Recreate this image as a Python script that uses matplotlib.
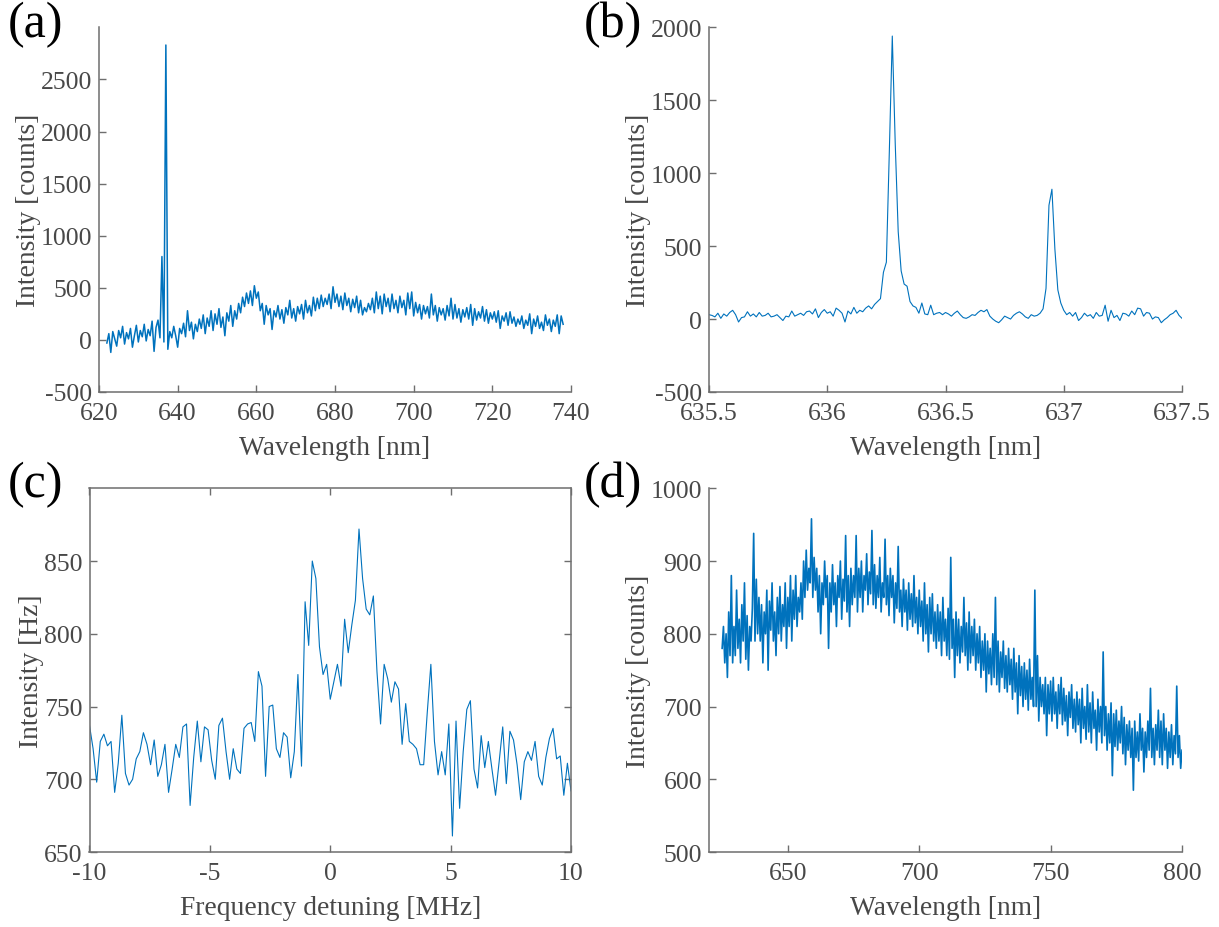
import numpy as np
import matplotlib
matplotlib.use("Agg")
import matplotlib.pyplot as plt

plt.rcParams['font.family'] = ['Liberation Serif', 'DejaVu Serif']
plt.rcParams['axes.unicode_minus'] = False

LINE = '#0072BD'
AX = '#6e6e6e'
TXT = '#484848'

# ---------------- (a) broad spectrum, 622-738 nm ----------------
a_range = (622.0, 738.0)
a_vals = [
    -30, 60, -120, 80, 10, -60, 90, 20, 130, -40, 70, 10, 110, -70, 40, 140,
    -20, 90, 30, 150, -10, 100, 40, 180, -110, 120, 190, 20,
    800, -20, 2830, -90,
    80, 20, 130, 40, -70, 110, 60, 160, 30, 280, 90, 170, 10, 150, 80, 200,
    110, 240, 60, 210, 130, 280, 90, 250, 150, 300, 120, 220, 40, 260, 180, 330,
    130, 280, 200, 350, 260, 410, 320, 450, 350, 470, 330, 520, 400, 460, 280, 350,
    150, 330, 240, 300, 100, 280, 220, 330, 200, 290, 160, 310, 240, 380, 210, 300,
    180, 320, 250, 340, 200, 380, 260, 330, 230, 410, 280, 400, 300, 430, 320, 400,
    340, 440, 300, 510, 360, 440, 320, 420, 290, 450, 330, 400, 270, 390, 310, 420,
    260, 380, 240, 310, 270, 350, 290, 400, 260, 460, 300, 420, 250, 440, 320, 400,
    270, 440, 300, 380, 260, 420, 310, 380, 240, 450, 300, 460, 230, 360, 260, 340,
    200, 330, 250, 320, 210, 440, 240, 330, 180, 310, 240, 300, 190, 330, 230, 400,
    200, 340, 210, 300, 170, 290, 220, 310, 200, 340, 140, 300, 190, 270, 210, 320,
    180, 290, 160, 260, 200, 270, 170, 280, 110, 230, 180, 260, 140, 270, 160, 220,
    130, 200, 150, 230, 110, 190, 140, 250, 60, 200, 130, 230, 110, 170, 90, 240,
    140, 200, 80, 190, 130, 240, 60, 230, 150,
]

# ---------------- (b) zoom on the two lines, 635.5-637.5 nm ----------------
b_range = (635.5, 637.5)
b_vals = [
    30, 25, 15, 40, 5, 35, 20, 45, 60, 30, -20, 10, 15, 50, 20, 35,
    15, 45, 20, 25, 40, 15, 20, 30, 10, -10, 20, 15, 55, 20, 30, 40,
    25, 50, 55, 35, 70, 10, 45, 65, 40, 50, 20, 75, 60, 40, -20, 55,
    35, 80, 40, 60, 50, 75, 90, 70, 100,
    120, 140, 320, 390, 1150, 1940, 1200, 600, 330, 240, 225, 120, 90, 80, 40,
    110, 35, 30, 95, 30, 40, 45, 30,
    45, 35, 20, 40, 55, 30, 10, 5, 15, 30, 25, 45, 60, 50, 65, 20,
    0, -15, -25, -5, 20, 10, 0, 25, 40, 50, 35, 15, 5, 30, 20, 25,
    40, 70, 210, 780, 890, 480, 200, 110, 60, 30, 45, 20, 45,
    -10, 10, 40, 20, 30, 5, 45, 20, 25, 95, -15, 60, 10, 25, -10, 40,
    35, 20, 55, 30, 75, 70, 20, 45, 40, 0, 15, 10, -25, -5, 10, 30,
    40, 60, 25, 5,
]

# ---------------- (c) excitation scan, -10..10 MHz ----------------
c_range = (-10.0, 10.0)
c_vals = [
    737, 721, 698, 726, 731, 723, 726, 691, 711, 744, 704, 696, 700, 714, 719, 732,
    724, 710, 727, 702, 710, 724, 691, 707, 724, 715, 736, 738, 682, 715, 740, 712,
    736, 734, 713, 700, 737, 742, 719, 700, 721, 707, 704, 735, 738, 739, 726, 774,
    764, 702, 750, 751, 721, 715, 732, 729, 701, 719, 772, 709, 822, 792, 850, 838,
    791, 772, 779, 755, 767, 779, 764, 810, 787, 806, 823, 872, 838, 817, 813, 826,
    774, 738, 779, 769, 753, 767, 762, 724, 752, 726, 724, 721, 710, 710, 746, 779,
    726, 703, 719, 703, 738, 661, 740, 680, 719, 748, 754, 707, 694, 730, 708, 726,
    707, 689, 712, 736, 697, 733, 727, 710, 686, 712, 719, 713, 726, 702, 696, 715,
    728, 735, 714, 716, 689, 711, 692,
]

# ---------------- (d) broad spectrum, 625-800 nm ----------------
d_range = (625.0, 800.0)
d_vals = [
    780, 810, 760, 800, 740, 830, 770, 880, 760, 810,
    770, 860, 780, 820, 760, 840, 790, 870, 765, 825,
    750, 810, 790, 835, 938, 790, 875, 800, 850, 790,
    840, 760, 830, 800, 860, 750, 845, 805, 870, 790,
    830, 770, 850, 800, 865, 790, 840, 810, 870, 780,
    850, 810, 880, 790, 860, 820, 880, 810, 850, 830,
    870, 820, 900, 850, 915, 860, 890, 870, 958, 850,
    905, 860, 890, 830, 880, 800, 870, 840, 900, 850,
    880, 780, 870, 830, 895, 840, 870, 810, 880, 850,
    900, 820, 875, 845, 935, 830, 880, 810, 890, 840,
    880, 850, 935, 830, 890, 850, 900, 830, 880, 860,
    910, 840, 885, 855, 942, 840, 895, 835, 880, 850,
    905, 830, 870, 850, 930, 840, 880, 825, 890, 850,
    880, 815, 870, 835, 920, 830, 860, 810, 875, 830,
    860, 805, 870, 820, 855, 810, 880, 815, 850, 800,
    860, 810, 845, 790, 870, 800, 840, 775, 850, 800,
    855, 790, 830, 780, 840, 790, 830, 770, 850, 790,
    820, 770, 835, 765, 905, 780, 820, 740, 830, 770,
    820, 760, 810, 775, 850, 770, 815, 750, 830, 760,
    810, 770, 820, 750, 800, 760, 810, 740, 790, 750,
    800, 720, 790, 745, 780, 730, 800, 740, 850, 730,
    790, 720, 775, 740, 790, 725, 770, 720, 780, 730,
    765, 710, 780, 720, 760, 690, 770, 715, 755, 700,
    760, 710, 750, 695, 765, 710, 740, 700, 860, 700,
    770, 680, 740, 700, 730, 690, 740, 660, 730, 690,
    735, 680, 740, 690, 720, 670, 730, 690, 740, 675,
    725, 680, 715, 660, 720, 685, 730, 670, 710, 665,
    720, 675, 710, 650, 725, 670, 700, 655, 730, 665,
    705, 650, 720, 670, 695, 640, 710, 665, 700, 650,
    775, 660, 700, 640, 690, 650, 705, 605, 690, 645,
    695, 640, 680, 650, 700, 635, 685, 620, 675, 640,
    680, 630, 670, 585, 680, 630, 665, 625, 690, 640,
    670, 610, 665, 630, 680, 640, 725, 630, 670, 620,
    675, 640, 695, 630, 680, 620, 690, 640, 670, 615,
    665, 630, 675, 620, 660, 635, 728, 630, 660, 615,
    640,
]

W, H = 1219, 928
fig = plt.figure(figsize=(W / 100, H / 100), dpi=100)


def px_axes(x0, x1, y0, y1):
    return fig.add_axes([x0 / W, 1 - y1 / H, (x1 - x0) / W, (y1 - y0) / H])


def style(ax, box=False):
    for s in ax.spines.values():
        s.set_color(AX)
        s.set_linewidth(1.1)
    if not box:
        ax.spines['top'].set_visible(False)
        ax.spines['right'].set_visible(False)
    ax.tick_params(direction='in', length=5, width=1.0, color=AX,
                   labelsize=18.5, labelcolor=TXT, top=box, right=box)
    ax.tick_params(axis='x', pad=7)
    ax.tick_params(axis='y', pad=5)


def finish(ax, xlabel, ylabel):
    ax.set_xlabel(xlabel, fontsize=19.8, color=TXT, labelpad=8)
    ax.set_ylabel(ylabel, fontsize=19.8, color=TXT, labelpad=0)


def fmt(v):
    return f"{v:g}"


# (a)
axa = px_axes(99, 571, 28.3, 393)
xa = np.linspace(a_range[0], a_range[1], len(a_vals))
axa.plot(xa, a_vals, color=LINE, lw=1.1)
axa.set_xlim(620, 740)
axa.set_ylim(-500, 3000)
axa.set_xticks(np.arange(620, 741, 20))
axa.set_yticks(np.arange(-500, 2501, 500))
style(axa)
finish(axa, 'Wavelength [nm]', 'Intensity [counts]')

# (b)
axb = px_axes(709, 1182, 28.3, 393)
xb = np.linspace(b_range[0], b_range[1], len(b_vals))
axb.plot(xb, b_vals, color=LINE, lw=0.8)
axb.set_xlim(635.5, 637.5)
axb.set_ylim(-500, 2000)
bx = [635.5, 636, 636.5, 637, 637.5]
axb.set_xticks(bx)
axb.set_xticklabels([fmt(v) for v in bx])
axb.set_yticks(np.arange(-500, 2001, 500))
style(axb)
finish(axb, 'Wavelength [nm]', 'Intensity [counts]')

# (c)
axc = px_axes(89.5, 571, 489.3, 853)
xc = np.linspace(c_range[0], c_range[1], len(c_vals))
axc.plot(xc, c_vals, color=LINE, lw=0.8)
axc.set_xlim(-10, 10)
axc.set_ylim(650, 900)
axc.set_xticks([-10, -5, 0, 5, 10])
axc.set_yticks(np.arange(650, 851, 50))
style(axc, box=True)
finish(axc, 'Frequency detuning [MHz]', 'Intensity [Hz]')

# (d)
axd = px_axes(709, 1182, 489.3, 853)
xd = np.linspace(d_range[0], d_range[1], len(d_vals))
axd.plot(xd, d_vals, color=LINE, lw=1.2)
axd.set_xlim(620, 800)
axd.set_ylim(500, 1000)
axd.set_xticks([650, 700, 750, 800])
axd.set_yticks(np.arange(500, 1001, 100))
style(axd)
finish(axd, 'Wavelength [nm]', 'Intensity [counts]')

for lab, x, y in [('(a)', 36, 25), ('(b)', 613, 25), ('(c)', 36, 485), ('(d)', 613, 485)]:
    fig.text(x / W, 1 - y / H, lab, fontsize=36, color='black', ha='center', va='center')

fig.savefig('out.png', dpi=100)
